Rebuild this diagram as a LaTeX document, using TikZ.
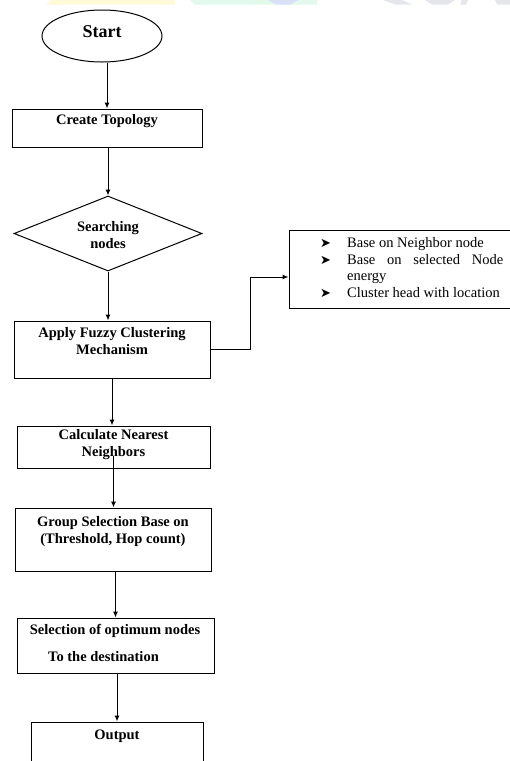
\documentclass[tikz,border=0pt]{standalone}
\usepackage{fontspec}
\setmainfont{Liberation Serif}
\newfontfamily\dejavu{DejaVu Sans}
\usetikzlibrary{shapes.geometric,arrows.meta,calc}
\definecolor{wmyellow}{HTML}{FFFAD8}
\definecolor{wmgreen}{HTML}{E2FAEC}
\definecolor{wmblue}{HTML}{D9DFF7}
\definecolor{wmgray}{HTML}{E4E6EB}
\tikzset{
  box/.style={draw, line width=1pt, rectangle, inner sep=0pt},
  lbl/.style={font=\bfseries\fontsize{14.5}{17}\selectfont, align=center, inner sep=0pt},
  arr/.style={draw, line width=1pt, -{Latex[length=6pt,width=5pt]}},
  conn/.style={draw, line width=1pt},
  bul/.style={font=\fontsize{14.5}{16.5}\selectfont, inner sep=0pt, anchor=base west},
  bulmark/.style={font=\dejavu\fontsize{13}{14}\selectfont, inner sep=0pt, anchor=base west},
}
\begin{document}
\begin{tikzpicture}[x=1pt,y=-1pt]
\useasboundingbox (0,0) rectangle (510,761);
\clip (0,0) rectangle (510,761);
% faint watermark band
\fill[wmyellow] (50,0) -- (175,0) -- (175,4.5) -- (46,4.5) -- cycle;
\fill[wmgreen] (190,0) -- (317,0) -- (317,4.5) -- (195,4.5) -- cycle;
\fill[wmblue] (268,0) -- (298,0) -- (291,4.5) -- (276,4.5) -- cycle;
\fill[wmgray] (383,0) -- (402,0) -- (412,4.5) -- (395,4.5) -- cycle;
\fill[wmgray] (425,0) -- (455,0) -- (448,4.5) -- (432,4.5) -- cycle;
\fill[wmgray] (462,0) -- (468,0) -- (466,4.5) -- (460,4.5) -- cycle;
\fill[wmgray] (495,0) -- (510,0) -- (510,4.5) -- (497,4.5) -- cycle;

% Start
\node[draw, line width=1pt, ellipse, minimum width=120pt, minimum height=52pt, inner sep=0pt] (start) at (102,36) {};
\node[font=\bfseries\fontsize{18}{20}\selectfont, inner sep=0pt] (startT) at (102,32) {Start};

% Create Topology
\node[box, minimum width=190pt, minimum height=38pt] (create) at (107,128) {};
\node[lbl] (createT) at (107,121) {Create Topology};

% Searching nodes (diamond)
\node[draw, line width=1pt, diamond, minimum width=188pt, minimum height=75pt, inner sep=0pt] (search) at (108,233.5) {};
\node[lbl] (searchT) at (108,235) {Searching\\nodes};

% Apply Fuzzy Clustering
\node[box, minimum width=196pt, minimum height=57pt] (apply) at (112,349.5) {};
\node[lbl] (applyT) at (112,341.5) {Apply Fuzzy Clustering\\Mechanism};

% Info box
\node[box, minimum width=226pt, minimum height=78pt] (info) at (402,269) {};
\node[bulmark] (b1) at (320,247) {➤};
\node[bul] (i1) at (347,247) {Base on Neighbor node};
\node[bulmark] (b2) at (320,264) {➤};
\node[bul] (i2) at (347,264) {\makebox[156pt][s]{Base on selected Node}};
\node[bul] (i2b) at (347,280.5) {energy};
\node[bulmark] (b3) at (320,297) {➤};
\node[bul] (i3) at (347,297) {Cluster head with location};

% Calculate Nearest Neighbors
\node[box, minimum width=193pt, minimum height=42pt] (calc) at (113.5,447) {};
\node[lbl] (calcT) at (113.5,444.5) {Calculate Nearest\\Neighbors};

% Group Selection
\node[box, minimum width=196pt, minimum height=63pt] (group) at (113,539.5) {};
\node[lbl] (groupT) at (113,531.5) {Group Selection Base on\\(Threshold, Hop count)};

% Selection of optimum nodes
\node[box, minimum width=197pt, minimum height=55pt] (sel) at (115.5,645.5) {};
\node[lbl] (selT1) at (115,631) {Selection of optimum nodes};
\node[lbl] (selT2) at (103.5,657) {To the destination};

% Output
\node[box, minimum width=172pt, minimum height=80pt] (out) at (117,762) {};
\node[lbl] (outT) at (117,736) {Output};

% connectors
\path[arr] (start.south -| create.north) -- (create.north);
\path[arr] (create.south -| search.north) -- (search.north);
\path[arr] (search.south) -- (search.south |- apply.north);
\coordinate (elbow) at (250,277);
\path[conn] (apply.east) -| (elbow);
\path[arr] (elbow) -- (elbow -| info.west);
\path[arr] (apply.south) -- (apply.south |- calc.north);
\path[arr] ($(calc.south)+(0,-13)$) -- (calc.south |- group.north);
\path[arr] (group.south -| sel.north) -- (sel.north);
\path[arr] (sel.south -| out.north) -- (out.north);
\end{tikzpicture}
\end{document}
